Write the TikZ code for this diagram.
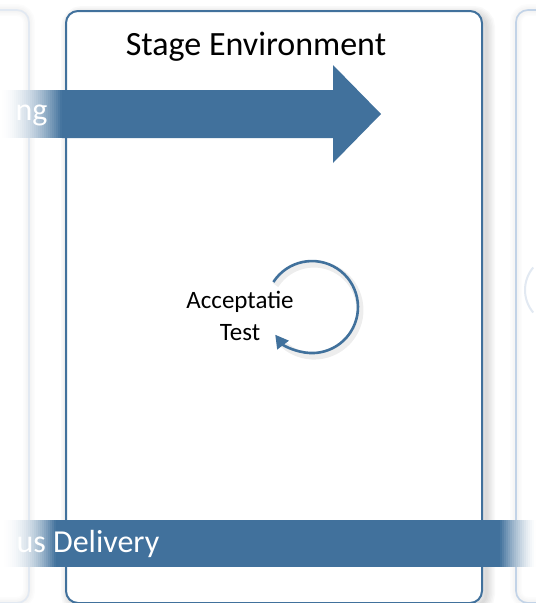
\documentclass[tikz,border=0pt]{standalone}
\usepackage{fontspec}
\setmainfont{Carlito}
\usetikzlibrary{arrows.meta,calc}
\definecolor{mblue}{RGB}{65,113,156}
\definecolor{faintL}{RGB}{226,233,242}
\definecolor{faintR}{RGB}{194,211,231}
\tikzset{
  glow/.style={black, opacity=0.022, rounded corners=12pt},
  stagebox/.style={draw=mblue, line width=2pt, rounded corners=12pt, fill=white,
    minimum width=416pt, minimum height=592pt, inner sep=0pt},
  titletext/.style={font=\fontsize{34}{40}\selectfont, anchor=base},
  bandtext/.style={font=\fontsize{32}{38}\selectfont, text=white, anchor=base west},
  looptext/.style={font=\fontsize{25}{32}\selectfont, align=center},
  looparrow/.style={draw=mblue, line width=2.6pt, -{Triangle[length=13pt,width=14pt]}}
}
\begin{document}
\begin{tikzpicture}[x=1pt,y=-1pt]
\useasboundingbox (0,0) rectangle (536,603);
\begin{scope}
\clip (0,0) rectangle (536,603);
\fill[white] (0,0) rectangle (536,603);
% neighbouring (faded) panels
\foreach \w in {3,6,9,12} {
  \draw[glow, opacity=0.012, line width=\w pt] (-60,10) rectangle (29,603);
  \draw[glow, opacity=0.012, line width=\w pt] (516,10) rectangle (620,603);
}
\draw[faintL, line width=1.6pt, rounded corners=12pt] (-60,10) rectangle (29,603);
\draw[faintR, line width=1.6pt, rounded corners=12pt] (516,10) rectangle (620,603);
\draw[faintL, line width=2pt] (533.2,312.5) arc[start angle=140, end angle=220, radius=35];
% main panel glow
\foreach \w in {3,6,9,12,15,18} {
  \draw[glow, line width=\w pt] (70,15) rectangle (486,606);
}
\node[stagebox] (stage) at (274,307) {};
% title
\node[titletext] (title) at (256,55) {Stage Environment};
% big arrow (fading in from the left)
\fill[mblue] (62,90) -- (333,90) -- (333,65) -- (381,114) -- (333,163) -- (333,138) -- (62,138) -- cycle;
\foreach \i in {0,...,30} {
  \pgfmathsetmacro{\p}{100*((\i+0.5)/31)^1.8}
  \fill[mblue!\p!white] ({2*\i},90) rectangle ({2*\i+2.3},138);
}
\node[bandtext] (ng) at (12,120) {ng};
% acceptance test with self loop
\node[looptext] (acc) at (240,316) {Acceptatie\\Test};
\coordinate (loopstart) at (273.4,282);
\draw[black, opacity=0.07, line width=7pt] ($(loopstart)+(2,3)$) arc[start angle=-147, end angle=135, radius=46];
\draw[looparrow] (loopstart) arc[start angle=-147, end angle=143, radius=46];
% bottom band (fading at both ends)
\fill[mblue] (56,520) rectangle (500,567);
\foreach \i in {0,...,27} {
  \pgfmathsetmacro{\p}{100*((\i+0.5)/28)^2.2}
  \fill[mblue!\p!white] ({2*\i},520) rectangle ({2*\i+2.3},567);
}
\foreach \i in {0,...,17} {
  \pgfmathsetmacro{\p}{100*((\i+0.5)/18)^1.4}
  \fill[mblue!\p!white] ({536-2*\i},520) rectangle ({536-2*\i-2.3},567);
}
\node[bandtext] (band) at (13,552) {us Delivery};
\end{scope}
\end{tikzpicture}
\end{document}
